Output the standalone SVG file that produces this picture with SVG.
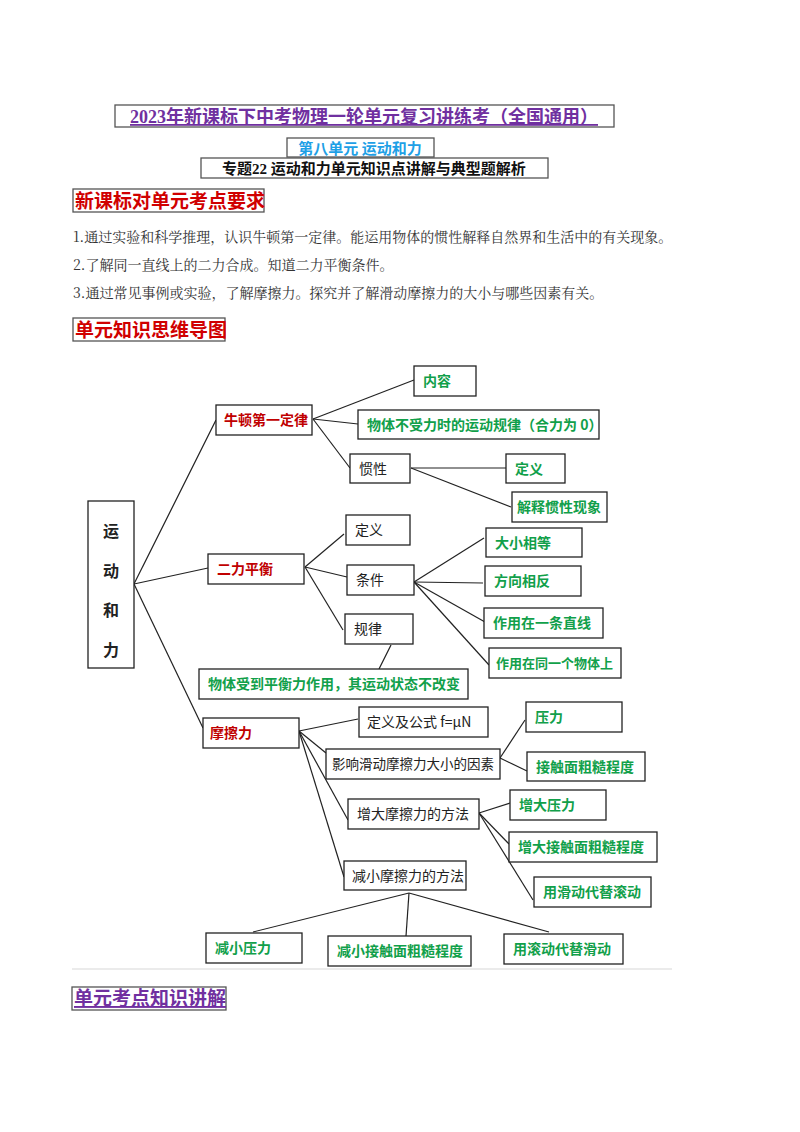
<svg xmlns="http://www.w3.org/2000/svg" width="800" height="1132" viewBox="0 0 800 1132">
<style>
text{font-family:"Noto Sans CJK SC","Noto Sans",sans-serif}
.b{fill:#fff;stroke:#222;stroke-width:1.3}
.hb{fill:none;stroke:#555;stroke-width:1.3}
.g{fill:#11a04a;font-size:14px;font-weight:bold}
.r{fill:#c00000;font-size:14px;font-weight:bold}
.k{fill:#222;font-size:14px}
.p{font-family:"Noto Serif CJK SC","Liberation Serif","Noto Sans CJK SC",serif;fill:#333;font-size:14px}
#connectors line{stroke:#222;stroke-width:1.2}
</style>
<rect width="800" height="1132" fill="#fff"/>
<g id="header">
<rect class="hb" x="115" y="105" width="499" height="22"/>
<text x="364" y="123" text-anchor="middle" style="font-family:'Liberation Serif','Noto Sans CJK SC',serif;font-size:18px;font-weight:bold;fill:#7030a0;text-decoration:underline">2023年新课标下中考物理一轮单元复习讲练考（全国通用）</text>
<rect class="hb" x="287" y="138" width="147" height="19"/>
<text x="360" y="154" text-anchor="middle" style="font-size:15px;font-weight:bold;fill:#1ea0e6">第八单元  运动和力</text>
<rect class="hb" x="201" y="158" width="347" height="20"/>
<text x="374" y="174" text-anchor="middle" style="font-family:'Liberation Serif','Noto Sans CJK SC',serif;font-size:15px;font-weight:bold;fill:#111">专题22 运动和力单元知识点讲解与典型题解析</text>
<rect class="hb" x="73" y="189" width="191" height="23"/>
<text x="75" y="208" style="font-size:19px;font-weight:bold;fill:#d00000">新课标对单元考点要求</text>
<text class="p" x="73" y="242">1.通过实验和科学推理，认识牛顿第一定律。能运用物体的惯性解释自然界和生活中的有关现象。</text>
<text class="p" x="73" y="270">2.了解同一直线上的二力合成。知道二力平衡条件。</text>
<text class="p" x="73" y="298">3.通过常见事例或实验，了解摩擦力。探究并了解滑动摩擦力的大小与哪些因素有关。</text>
<rect class="hb" x="73" y="318" width="152" height="23"/>
<text x="75" y="337" style="font-size:19px;font-weight:bold;fill:#d00000">单元知识思维导图</text>
</g>
<g id="connectors">
<line x1="134" y1="584" x2="216" y2="420"/>
<line x1="134" y1="584" x2="208" y2="568"/>
<line x1="134" y1="584" x2="203" y2="728"/>
<line x1="313" y1="419" x2="414" y2="380"/>
<line x1="313" y1="419" x2="358" y2="424"/>
<line x1="313" y1="419" x2="350" y2="468"/>
<line x1="411" y1="468" x2="506" y2="468"/>
<line x1="411" y1="468" x2="511" y2="507"/>
<line x1="305" y1="567" x2="344" y2="534"/>
<line x1="305" y1="567" x2="347" y2="577"/>
<line x1="305" y1="567" x2="343" y2="630"/>
<line x1="414" y1="582" x2="484" y2="538"/>
<line x1="414" y1="582" x2="483" y2="583"/>
<line x1="414" y1="582" x2="485" y2="622"/>
<line x1="414" y1="582" x2="489" y2="665"/>
<line x1="391" y1="645" x2="379" y2="669"/>
<line x1="299" y1="731" x2="358" y2="719"/>
<line x1="299" y1="731" x2="326" y2="753"/>
<line x1="299" y1="731" x2="348" y2="820"/>
<line x1="299" y1="731" x2="344" y2="877"/>
<line x1="500" y1="758" x2="525" y2="720"/>
<line x1="500" y1="758" x2="527" y2="771"/>
<line x1="479" y1="813" x2="510" y2="803"/>
<line x1="479" y1="813" x2="509" y2="844"/>
<line x1="479" y1="813" x2="533" y2="900"/>
<line x1="409" y1="893" x2="253" y2="932"/>
<line x1="409" y1="893" x2="406" y2="936"/>
<line x1="409" y1="893" x2="549" y2="932"/>
</g>
<g id="n-root"><rect class="b" x="88" y="501" width="46" height="167"/>
<text class="k" x="111" y="537" text-anchor="middle" style="font-size:16px;font-weight:bold">运</text>
<text class="k" x="111" y="577" text-anchor="middle" style="font-size:16px;font-weight:bold">动</text>
<text class="k" x="111" y="616" text-anchor="middle" style="font-size:16px;font-weight:bold">和</text>
<text class="k" x="111" y="656" text-anchor="middle" style="font-size:16px;font-weight:bold">力</text></g>
<g id="n-newton"><rect class="b" x="216" y="405" width="96" height="30"/><text class="r" x="224" y="425">牛顿第一定律</text></g>
<g id="n-neirong"><rect class="b" x="414" y="366" width="62" height="30"/><text class="g" x="423" y="386">内容</text></g>
<g id="n-guilv0"><rect class="b" x="358" y="410" width="241" height="29"/><text class="g" x="367" y="430">物体不受力时的运动规律（合力为 0）</text></g>
<g id="n-guanxing"><rect class="b" x="350" y="454" width="60" height="29"/><text class="k" x="359" y="474">惯性</text></g>
<g id="n-dingyi1"><rect class="b" x="506" y="454" width="59" height="29"/><text class="g" x="515" y="474">定义</text></g>
<g id="n-jieshi"><rect class="b" x="512" y="492" width="95" height="30"/><text class="g" x="517" y="512">解释惯性现象</text></g>
<g id="n-erli"><rect class="b" x="208" y="554" width="96" height="30"/><text class="r" x="217" y="574">二力平衡</text></g>
<g id="n-dingyi2"><rect class="b" x="346" y="515" width="64" height="30"/><text class="k" x="355" y="535">定义</text></g>
<g id="n-tiaojian"><rect class="b" x="347" y="565" width="67" height="30"/><text class="k" x="356" y="585">条件</text></g>
<g id="n-guilv"><rect class="b" x="345" y="614" width="68" height="30"/><text class="k" x="354" y="634">规律</text></g>
<g id="n-daxiao"><rect class="b" x="486" y="528" width="96" height="29"/><text class="g" x="495" y="548">大小相等</text></g>
<g id="n-fangxiang"><rect class="b" x="485" y="566" width="96" height="30"/><text class="g" x="494" y="586">方向相反</text></g>
<g id="n-zhixian"><rect class="b" x="484" y="608" width="119" height="30"/><text class="g" x="493" y="628">作用在一条直线</text></g>
<g id="n-tongyi"><rect class="b" x="489" y="648" width="132" height="30"/><text class="g" x="496" y="668" style="font-size:13px">作用在同一个物体上</text></g>
<g id="n-pingheng"><rect class="b" x="199" y="669" width="269" height="30"/><text class="g" x="208" y="689">物体受到平衡力作用，其运动状态不改变</text></g>
<g id="n-moca"><rect class="b" x="203" y="718" width="96" height="30"/><text class="r" x="210" y="738">摩擦力</text></g>
<g id="n-gongshi"><rect class="b" x="359" y="707" width="129" height="30"/><text class="k" x="367" y="727">定义及公式 f=μN</text></g>
<g id="n-yingxiang"><rect class="b" x="326" y="749" width="174" height="30"/><text class="k" x="332" y="769" style="font-size:13.5px">影响滑动摩擦力大小的因素</text></g>
<g id="n-yali"><rect class="b" x="526" y="702" width="96" height="30"/><text class="g" x="535" y="722">压力</text></g>
<g id="n-cucao"><rect class="b" x="527" y="752" width="118" height="29"/><text class="g" x="536" y="772">接触面粗糙程度</text></g>
<g id="n-zengda"><rect class="b" x="348" y="799" width="131" height="30"/><text class="k" x="357" y="819">增大摩擦力的方法</text></g>
<g id="n-zdyali"><rect class="b" x="510" y="790" width="96" height="30"/><text class="g" x="519" y="810">增大压力</text></g>
<g id="n-zdcucao"><rect class="b" x="509" y="832" width="148" height="30"/><text class="g" x="518" y="852">增大接触面粗糙程度</text></g>
<g id="n-huadong"><rect class="b" x="534" y="877" width="117" height="30"/><text class="g" x="543" y="897">用滑动代替滚动</text></g>
<g id="n-jianxiao"><rect class="b" x="344" y="861" width="122" height="29"/><text class="k" x="352" y="881">减小摩擦力的方法</text></g>
<g id="n-jxyali"><rect class="b" x="206" y="933" width="96" height="30"/><text class="g" x="215" y="953">减小压力</text></g>
<g id="n-jxcucao"><rect class="b" x="328" y="936" width="143" height="30"/><text class="g" x="337" y="956">减小接触面粗糙程度</text></g>
<g id="n-gundong"><rect class="b" x="504" y="934" width="119" height="30"/><text class="g" x="513" y="954">用滚动代替滑动</text></g>
<line x1="72" y1="969" x2="672" y2="969" stroke="#e4e4e4" stroke-width="1.5"/>
<g id="footer"><rect class="hb" x="72" y="987" width="154" height="23"/>
<text x="74" y="1005" style="font-size:19px;font-weight:bold;fill:#7030a0;text-decoration:underline">单元考点知识讲解</text></g>
</svg>
